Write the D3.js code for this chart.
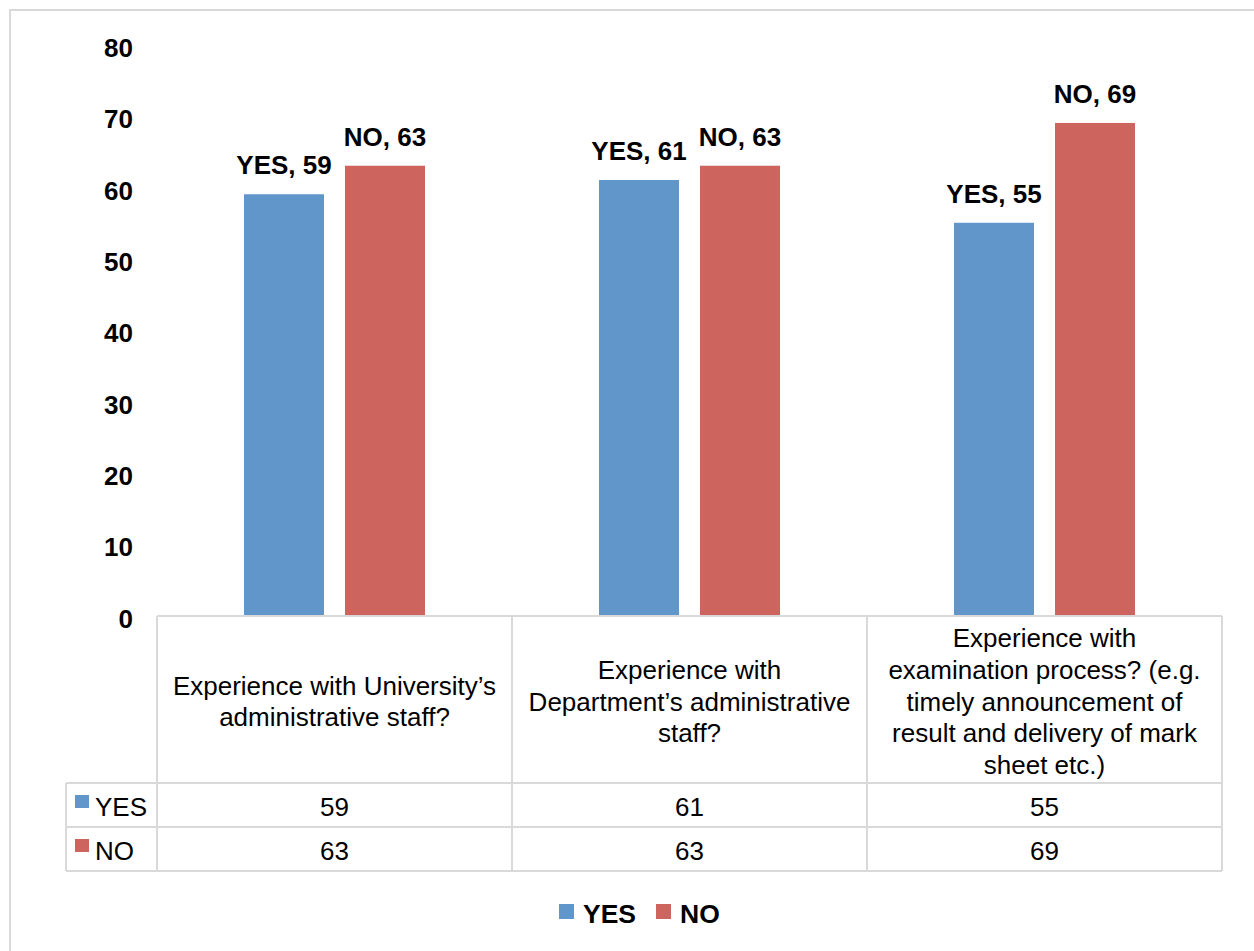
<!DOCTYPE html>
<html><head><meta charset="utf-8">
<script src="https://cdn.jsdelivr.net/npm/d3@7"></script>
<style>body{margin:0;background:#fff}svg{display:block;font-family:"Liberation Sans",Arial,sans-serif}</style>
</head><body>
<svg id="c" width="1254" height="951"></svg>
<script>
const categories = [
  ["Experience with University’s", "administrative staff?"],
  ["Experience with", "Department’s administrative", "staff?"],
  ["Experience with", "examination process? (e.g.", "timely announcement of", "result and delivery of mark", "sheet etc.)"]
];
const seriesNames = ["YES", "NO"];
const yesValues = [59, 61, 55];
const noValues = [63, 63, 69];
const yTicks = [0, 10, 20, 30, 40, 50, 60, 70, 80];
const colors = ["#6096c9", "#cd645e"];

const svg = d3.select("#c");
const values = [yesValues, noValues];
const plotL = 157, plotR = 1222, y0 = 615, yTop = 44.5;
const grid = "#d9d9d9";

svg.append("rect").attr("x",10).attr("y",10).attr("width",1260).attr("height",960)
  .attr("fill","none").attr("stroke","#d9d9d9").attr("stroke-width",2);

const x = d3.scaleBand().domain(d3.range(categories.length)).range([plotL, plotR]);
const y = d3.scaleLinear().domain([0, 80]).range([y0, yTop]);
const barW = 80, gap = 21;
const xs = d3.scaleOrdinal().domain([0,1]).range([-(barW + gap/2), gap/2]);

// y axis labels
const yAxis = d3.axisLeft(y).tickValues(yTicks).tickSize(0).tickPadding(0);
const ga = svg.append("g").attr("transform", "translate(133,3)").call(yAxis);
ga.select(".domain").remove();
ga.selectAll("text").attr("font-size", 26).attr("font-weight", "bold").attr("fill", "#000")
  .attr("font-family", "Liberation Sans, Arial, sans-serif").attr("dy","0.35em");

// bars
seriesNames.forEach((s, si) => {
  svg.append("g").selectAll("rect").data(values[si]).join("rect")
    .attr("x", (d, i) => x(i) + x.bandwidth()/2 + xs(si))
    .attr("y", d => y(d)).attr("width", barW).attr("height", d => y0 - y(d))
    .attr("fill", colors[si]);
});
// data labels, nudging YES label left if it would collide with the NO label
values[0].forEach((v, i) => {
  const cx0 = x(i) + x.bandwidth()/2 + xs(0) + barW/2;
  const cx1 = x(i) + x.bandwidth()/2 + xs(1) + barW/2;
  const t0 = svg.append("text").attr("x", cx0).attr("y", y(v) - 20)
    .attr("text-anchor", "middle").attr("font-size", 26).attr("font-weight", "bold")
    .text(`${seriesNames[0]}, ${v}`);
  const v1 = values[1][i];
  const t1 = svg.append("text").attr("x", cx1).attr("y", y(v1) - 20)
    .attr("text-anchor", "middle").attr("font-size", 26).attr("font-weight", "bold")
    .text(`${seriesNames[1]}, ${v1}`);
  const b0 = t0.node().getBBox(), b1 = t1.node().getBBox();
  const overlapY = b0.y < b1.y + b1.height && b1.y < b0.y + b0.height;
  const over = b0.x + b0.width + 2 - b1.x;
  if (overlapY && over > 0) t0.attr("x", cx0 - over);
});

// table
const hTop = 616, hBot = 783, r1 = 827, r2 = 871, legL = 66;
const tbl = svg.append("g").attr("stroke", grid).attr("stroke-width", 2).attr("fill", "none");
tbl.append("line").attr("x1", plotL).attr("x2", plotR).attr("y1", hTop).attr("y2", hTop);
[hBot, r1, r2].forEach(v => tbl.append("line").attr("x1", legL).attr("x2", plotR).attr("y1", v).attr("y2", v));
[0,1,2,3].forEach(i => {
  const xv = i < 3 ? x(i) : plotR;
  tbl.append("line").attr("x1", xv).attr("x2", xv).attr("y1", hTop).attr("y2", r2);
});
tbl.append("line").attr("x1", legL).attr("x2", legL).attr("y1", hBot).attr("y2", r2);

categories.forEach((lines, i) => {
  const cy = (hTop + hBot)/2 + 2, lh = 31.7;
  const t = svg.append("text").attr("text-anchor", "middle").attr("font-size", 26).attr("fill", "#000");
  lines.forEach((ln, k) => {
    t.append("tspan").attr("x", x(i) + x.bandwidth()/2)
      .attr("y", cy + (k - (lines.length - 1)/2) * lh).attr("dy", "0.35em").text(ln);
  });
});
const rowY = [(hBot + r1)/2 + 2, (r1 + r2)/2 + 2];
seriesNames.forEach((s, si) => {
  svg.append("rect").attr("x", 75).attr("y", rowY[si] - 12).attr("width", 14).attr("height", 13).attr("fill", colors[si]);
  svg.append("text").attr("x", 95).attr("y", rowY[si]).attr("dy","0.35em").attr("font-size", 26).text(s);
  svg.append("g").selectAll("text").data(values[si]).join("text")
    .attr("x", (d, i) => x(i) + x.bandwidth()/2).attr("y", rowY[si]).attr("dy","0.35em")
    .attr("text-anchor", "middle").attr("font-size", 26).text(d => d);
});

// legend
const lx = [559, 656];
seriesNames.forEach((s, si) => {
  svg.append("rect").attr("x", lx[si]).attr("y", 904).attr("width", 15).attr("height", 15).attr("fill", colors[si]);
  svg.append("text").attr("x", lx[si] + 24).attr("y", 914).attr("dy","0.35em")
    .attr("font-size", 26.5).attr("font-weight", "bold").text(s);
});
</script>
</body></html>
